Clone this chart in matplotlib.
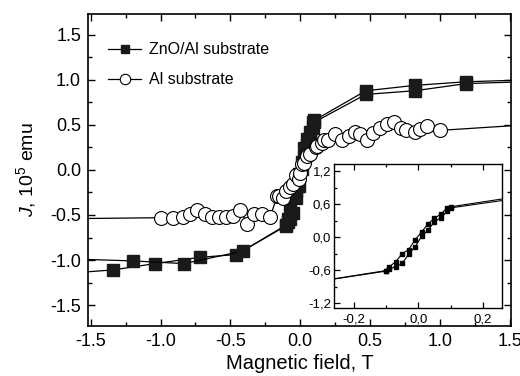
import numpy as np
import matplotlib.pyplot as plt
from matplotlib.ticker import MultipleLocator, FuncFormatter

plt.rcParams['font.family'] = ['Liberation Sans', 'DejaVu Sans']
plt.rcParams['mathtext.fontset'] = 'custom'
plt.rcParams['mathtext.rm'] = 'Liberation Sans'
plt.rcParams['mathtext.it'] = 'Liberation Sans:italic'
plt.rcParams['axes.unicode_minus'] = False

# ZnO/Al substrate, field going up (lower branch)
zno_up_x = [-1.6, -1.34, -1.04, -0.72, -0.46, -0.10, -0.09, -0.07, -0.05, -0.03,
            -0.01, 0.01, 0.03, 0.05, 0.07, 0.09, 0.10, 0.47, 0.82, 1.19, 1.6]
zno_up_y = [-1.14, -1.11, -1.04, -0.97, -0.94, -0.62, -0.58, -0.54, -0.48, -0.31,
            -0.18, 0.01, 0.12, 0.28, 0.35, 0.47, 0.53, 0.84, 0.88, 0.96, 0.98]
# ZnO/Al substrate, field going down (upper branch)
zno_dn_x = [1.6, 1.19, 0.82, 0.47, 0.10, 0.09, 0.07, 0.05, 0.03, 0.01, -0.01,
            -0.03, -0.05, -0.07, -0.09, -0.10, -0.41, -0.83, -1.2, -1.6]
zno_dn_y = [1.0, 0.98, 0.94, 0.88, 0.55, 0.53, 0.42, 0.34, 0.24, 0.09, -0.05,
            -0.23, -0.30, -0.45, -0.54, -0.61, -0.90, -1.04, -1.01, -0.99]

# Al substrate
al_x = [-1.6, -1.0, -0.91, -0.84, -0.79, -0.74, -0.68, -0.63, -0.58, -0.53, -0.48,
        -0.43, -0.38, -0.33, -0.275, -0.215, -0.165, -0.155, -0.12, -0.10, -0.07,
        -0.05, -0.03, -0.012, 0.0, 0.012, 0.024, 0.05, 0.07, 0.115, 0.12, 0.155,
        0.17, 0.20, 0.25, 0.30, 0.35, 0.39, 0.43, 0.48, 0.52, 0.57, 0.62, 0.67,
        0.72, 0.76, 0.82, 0.86, 0.91, 1.0, 1.6]
al_y = [-0.54, -0.53, -0.53, -0.52, -0.49, -0.45, -0.49, -0.52, -0.52, -0.52, -0.51,
        -0.44, -0.60, -0.49, -0.49, -0.52, -0.29, -0.29, -0.31, -0.23, -0.19,
        -0.16, -0.06, -0.10, -0.03, 0.07, 0.08, 0.16, 0.18, 0.25, 0.27, 0.30,
        0.33, 0.33, 0.40, 0.33, 0.38, 0.42, 0.40, 0.33, 0.41, 0.47, 0.51, 0.53,
        0.47, 0.44, 0.42, 0.46, 0.49, 0.44, 0.50]

fig = plt.figure(figsize=(5.2, 3.76), dpi=100)
ax = fig.add_axes([0.1692, 0.133, 0.8135, 0.8298])

ax.plot(zno_up_x, zno_up_y, '-', color='black', lw=0.9, marker='s', ms=8.5,
        mfc='#1a1a1a', mec='#1a1a1a', label='ZnO/Al substrate')
ax.plot(zno_dn_x, zno_dn_y, '-', color='black', lw=0.9, marker='s', ms=8.5,
        mfc='#1a1a1a', mec='#1a1a1a')
ax.plot(al_x, al_y, '-', color='black', lw=0.9, marker='o', ms=10,
        mfc='white', mec='black', mew=0.8, label='Al substrate')

ax.set_xlim(-1.52, 1.51)
ax.set_ylim(-1.733, 1.733)
ax.xaxis.set_major_locator(MultipleLocator(0.5))
ax.xaxis.set_minor_locator(MultipleLocator(0.25))
ax.yaxis.set_major_locator(MultipleLocator(0.5))
ax.yaxis.set_minor_locator(MultipleLocator(0.25))
ax.xaxis.set_major_formatter(FuncFormatter(lambda v, p: f'{v:.1f}'))
ax.yaxis.set_major_formatter(FuncFormatter(lambda v, p: f'{v:.1f}'))
ax.tick_params(which='both', direction='in', top=True, right=True, width=1)
ax.tick_params(which='major', length=5, labelsize=13, pad=5)
ax.tick_params(which='minor', length=3)
for s in ax.spines.values():
    s.set_linewidth(1.2)

ax.set_xlabel('Magnetic field, T', fontsize=14.5, labelpad=3)
ax.set_ylabel(r'$J$, 10$^5$ emu', fontsize=14, labelpad=9)

ax.legend(loc='upper left', bbox_to_anchor=(0.028, 0.935), frameon=False,
          fontsize=11.5, borderpad=0, handlelength=2.1, handletextpad=0.5,
          labelspacing=0.95, markerscale=0.75)

# inset
ins = fig.add_axes([0.642, 0.181, 0.323, 0.383])
ins.plot(zno_up_x, zno_up_y, '-', color='black', lw=0.8, marker='s', ms=3.2,
         mfc='black', mec='black')
ins.plot(zno_dn_x, zno_dn_y, '-', color='black', lw=0.8, marker='s', ms=3.2,
         mfc='black', mec='black')
ins.set_xlim(-0.262, 0.259)
ins.set_ylim(-1.29, 1.33)
ins.xaxis.set_major_locator(MultipleLocator(0.2))
ins.xaxis.set_minor_locator(MultipleLocator(0.1))
ins.yaxis.set_major_locator(MultipleLocator(0.6))
ins.yaxis.set_minor_locator(MultipleLocator(0.3))
comma = FuncFormatter(lambda v, p: f'{v:.1f}'.replace('.', ',').replace('-0,0', '0,0'))
ins.xaxis.set_major_formatter(comma)
ins.yaxis.set_major_formatter(comma)
ins.tick_params(which='both', direction='in', top=True, right=False, width=0.9)
ins.tick_params(which='major', length=4, labelsize=9.5, pad=2)
ins.tick_params(axis='x', which='major', pad=4)
ins.tick_params(which='minor', length=2.5)
for s in ins.spines.values():
    s.set_linewidth(1.0)

fig.savefig('out.png', dpi=100)
